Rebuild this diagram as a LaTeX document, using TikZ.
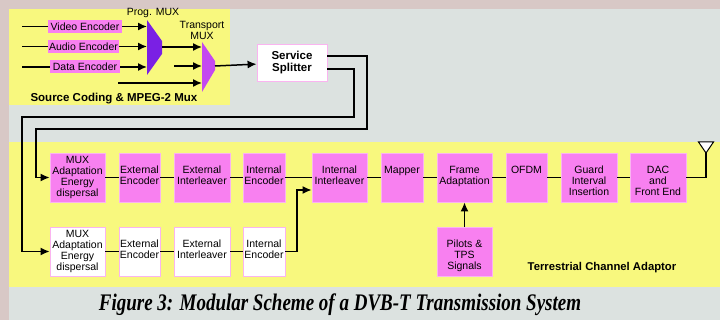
\documentclass[tikz,border=0pt]{standalone}
\usepackage{fontspec}
\setmainfont{Liberation Sans}
\newfontfamily\capfont{Liberation Serif}
\usetikzlibrary{arrows.meta,positioning,calc}
\definecolor{keret}{RGB}{216,200,198}
\definecolor{panel}{RGB}{220,226,224}
\definecolor{sarga}{RGB}{248,248,126}
\definecolor{rozsa}{RGB}{248,128,240}
\definecolor{rszel}{RGB}{250,180,240}
\definecolor{pmux}{RGB}{122,32,228}
\definecolor{tmux}{RGB}{196,72,240}
\tikzset{
  blk/.style={fill=rozsa,draw=rszel,line width=0.8pt,minimum width=#1,minimum height=49pt,inner sep=0pt},
  wblk/.style={blk=#1,fill=white},
  txt/.style={anchor=north,yshift=-13pt,align=center,inner sep=0pt},
  txtb/.style={anchor=north,yshift=-3.5pt,align=center,inner sep=0pt},
  enc/.style={fill=rozsa,minimum width=#1,minimum height=13pt,inner sep=0pt},
  vez/.style={line width=1.5pt},
  nyil/.style={vez,-{Latex[length=9pt,width=8pt]}},
  cim/.style={font=\bfseries\fontsize{11.5}{12.5}\selectfont,align=center},
}
\begin{document}
\begin{tikzpicture}[x=1pt,y=-1pt,font=\fontsize{10.5}{11}\selectfont]
  % panels
  \fill[keret] (0,0) rectangle (720,320);
  \fill[panel] (9,9) rectangle (720,320);
  \fill[sarga] (9,9) rectangle (230,105);
  \fill[sarga] (9,142) rectangle (720,287);

  % source coding and the two multiplexers
  \node[enc=74] (venc) at (85,26.5) {Video Encoder};
  \node[enc=71] (aenc) at (83.5,46.5) {Audio Encoder};
  \node[enc=70] (denc) at (85,67) {Data Encoder};
  \fill[pmux] (147,20) -- (162,41) -- (162,54) -- (147,75) -- cycle;
  \fill[tmux] (202,42) -- (215,61) -- (215,70) -- (202,92) -- cycle;
  \coordinate (bal) at (22,0); \coordinate (pmL) at (147,47); \coordinate (pmR) at (162,47);
  \coordinate (tmL) at (202,66); \coordinate (tmR) at (215,66);
  \coordinate (t2) at (174,66); \coordinate (t3) at (118,83);
  \foreach \e in {venc,aenc,denc} {
    \draw[vez] (bal |- \e.west) -- (\e.west);
    \draw[nyil] (\e.east) -- (\e.east -| pmL);
  }
  \draw[nyil] (pmR) -- (pmR -| tmL);
  \draw[nyil] (t2) -- (t2 -| tmL); \draw[nyil] (t3) -- (t3 -| tmL);
  \node (pmlab) at (153,13) {Prog. MUX};
  \node[align=center] (tmlab) at (202,30.5) {Transport\\MUX};
  \node[cim,anchor=west] (src) at (27,99) {Source Coding \& MPEG-2 Mux};

  \node[wblk=70,minimum height=37pt,cim] (sp) at (292,62.5) {Service\\Splitter};
  \draw[nyil] (tmR) -- (sp);

  % channel adaptor, upper branch
  \node[blk=55,label={[txtb]north:MUX\\Adaptation\\Energy\\dispersal}] (mux1) at (77.5,177.5) {};
  \node[blk=41,label={[txt]north:External\\Encoder}] (ee1) at (139.5,177.5) {};
  \node[blk=56,label={[txt]north:External\\Interleaver}] (ei1) at (202,177.5) {};
  \node[blk=42,label={[txt]north:Internal\\Encoder}] (ie1) at (264,177.5) {};
  \node[blk=55,label={[txt]north:Internal\\Interleaver}] (ii) at (339.5,177.5) {};
  \node[blk=42,label={[txt]north:Mapper}] (map) at (402,177.5) {};
  \node[blk=55,label={[txt]north:Frame\\Adaptation}] (fra) at (464.5,177.5) {};
  \node[blk=41,label={[txt]north:OFDM}] (ofdm) at (526.5,177.5) {};
  \node[blk=56,label={[txt]north:Guard\\Interval\\Insertion}] (gi) at (589,177.5) {};
  \node[blk=56,label={[txt]north:DAC\\and\\Front End}] (dac) at (658,177.5) {};
  \node[blk=55,label={[txt]north:Pilots \&\\TPS\\Signals}] (pil) at (464.5,251.5) {};

  % lower branch
  \node[wblk=55,label={[txtb]north:MUX\\Adaptation\\Energy\\dispersal}] (mux2) at (77.5,251.5) {};
  \node[wblk=41,label={[txt]north:External\\Encoder}] (ee2) at (139.5,251.5) {};
  \node[wblk=56,label={[txt]north:External\\Interleaver}] (ei2) at (202,251.5) {};
  \node[wblk=42,label={[txt]north:Internal\\Encoder}] (ie2) at (264,251.5) {};

  \foreach \a/\b in {mux1/ee1,ee1/ei1,ei1/ie1,ie1/ii,ii/map,map/fra,fra/ofdm,ofdm/gi,gi/dac,
    mux2/ee2,ee2/ei2,ei2/ie2} \draw[vez] (\a) -- (\b);
  \draw[nyil] ([yshift=6.5pt]sp.east) -| (367,129) -- (36,129) |- (mux1);
  \draw[nyil] ([yshift=-6.5pt]sp.east) -| (354,117) -- (22,117) |- (mux2);
  \draw[nyil] (ie2) -| (297,190) -- ([yshift=-12.5pt]ii.west);
  \draw[nyil] (pil) -- (fra);

  % antenna
  \coordinate (ant) at (706,153);
  \draw[vez] (dac) -| (ant);
  \draw[line width=1pt,fill=white] (ant) -- ++(-7.5,-11) -- ++(15,0) -- cycle;

  \node[cim,font=\bfseries\fontsize{11.3}{12}\selectfont] (tca) at (602,268) {Terrestrial Channel Adaptor};
  \node[font=\capfont\bfseries\itshape\fontsize{19}{22}\selectfont] (cap) at (340,305)
    {\scalebox{1}[1.25]{Figure 3: Modular Scheme of a DVB-T Transmission System}};
\end{tikzpicture}
\end{document}
